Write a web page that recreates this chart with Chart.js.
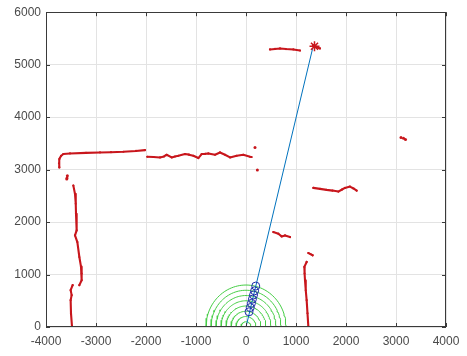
<!DOCTYPE html>
<html><head><meta charset="utf-8">
<script src="https://cdn.jsdelivr.net/npm/chart.js@4.4.0/dist/chart.umd.min.js"></script>
<style>html,body{margin:0;padding:0;background:#fff;overflow:hidden}</style>
</head><body>
<canvas id="c" width="467" height="356"></canvas>
<script>
// ---- tick labels ----
const xTicks = [-4000,-3000,-2000,-1000,0,1000,2000,3000,4000];
const yTicks = [0,1000,2000,3000,4000,5000,6000];

// ---- red scan segments [x, y] ----
const scanHookTop = [[-3733,3042],[-3740,3120],[-3730,3202],[-3700,3260],[-3653,3297],[-3520,3308],[-3200,3318],[-2920,3327],[-2700,3332],[-2453,3340],[-2200,3355],[-2020,3372]];
const scanMiddle = [[-1973,3245],[-1850,3240],[-1720,3232],[-1640,3250],[-1587,3283],[-1487,3232],[-1420,3250],[-1353,3264],[-1220,3296],[-1140,3285],[-1053,3264],[-953,3220],[-887,3296],[-820,3300],[-753,3308],[-620,3283],[-520,3327],[-420,3283],[-320,3232],[-187,3264],[-53,3283],[80,3245],[110,3240]];
const scanDots = [[180,3422],[227,2993],[3100,3610],[3150,3598],[3190,3572],[-3573,2885],[-3580,2840],[-3585,2822]];
const scanTop = [[480,5290],[580,5300],[680,5309],[800,5298],[947,5290],[1080,5270]];
const scanStarCluster = [[1340,5370],[1380,5350],[1420,5330],[1480,5310]];
const scanRightMid = [[1347,2651],[1480,2632],[1613,2613],[1730,2600],[1847,2581],[1920,2620],[1980,2651],[2080,2676],[2150,2640],[2213,2600]];
const scanShort = [[547,1809],[647,1778],[713,1727],[780,1746],[880,1714]];
const scanTiny = [[1247,1410],[1290,1390],[1333,1367]];
const scanRightWall = [[1213,1240],[1167,1145],[1172,1020],[1180,892],[1195,700],[1213,512],[1230,260],[1247,6]];
const scanLeftUpper = [[-3453,2695],[-3420,2537],[-3405,2350],[-3400,2158],[-3387,1841],[-3420,1746],[-3373,1619],[-3333,1334],[-3300,1150],[-3287,1019],[-3287,892],[-3333,797]];
const scanLeftLower = [[-3467,797],[-3507,702],[-3487,607],[-3507,512],[-3500,260],[-3480,6]];
const targetStar = [[1370,5352]];

// ---- path & circles ----
const pathLine = [[0,0],[1330,5300]];
const pathCircles = [[60,290],[85,370],[108,450],[128,530],[150,610],[172,690],[195,780]];
const ringRadii = [100,200,300,400,500,600,700,800];

const RED = 'rgb(200,22,28)';
const toPts = a => a.map(p => ({x:p[0], y:p[1]}));
const scanSegments = [scanHookTop, scanMiddle, scanTop, scanStarCluster, scanRightMid, scanShort, scanTiny, scanRightWall, scanLeftUpper, scanLeftLower];

const datasets = [];
scanSegments.forEach(seg => datasets.push({
  data: toPts(seg), showLine: true, borderColor: RED, backgroundColor: RED,
  borderWidth: 2.1, pointRadius: 1.1, pointBorderWidth: 0, borderCapStyle: 'round', borderJoinStyle: 'round', order: 5
}));
datasets.push({data: toPts(scanDots), showLine:false, pointRadius:1.5, pointBorderWidth:0, backgroundColor: RED, order:5});
datasets.push({data: toPts(targetStar), showLine:false, pointStyle:'star', pointRadius:5, borderColor: RED, pointBorderWidth:1.5, backgroundColor: RED, order:1});

// green rings (geometric semicircles of given radius)
ringRadii.forEach(r => {
  const pts = [];
  for (let a = 0; a <= 180; a += 3) {
    const t = a * Math.PI / 180;
    pts.push({x: r * Math.cos(t), y: r * Math.sin(t)});
  }
  datasets.push({data: pts, showLine:true, borderColor:'rgb(70,205,70)', borderWidth:1, pointRadius:0, order:4});
});

datasets.push({data: toPts(pathLine), showLine:true, borderColor:'#0072BD', borderWidth:1, pointRadius:0, order:3});
datasets.push({data: toPts(pathCircles), showLine:false, pointStyle:'circle', pointRadius:4, borderColor:'rgb(30,45,170)', pointBorderWidth:1, backgroundColor:'rgba(0,0,0,0)', order:2});

const framePlugin = {
  id: 'frame',
  beforeDraw(chart) {
    const ctx = chart.ctx;
    ctx.save(); ctx.fillStyle = '#fff'; ctx.fillRect(0,0,chart.width,chart.height); ctx.restore();
  },
  afterDraw(chart) {
    const {ctx, chartArea: a, scales: {x, y}} = chart;
    ctx.save();
    ctx.strokeStyle = '#3a3a3a'; ctx.lineWidth = 1;
    ctx.strokeRect(Math.round(a.left)+0.5, Math.round(a.top)+0.5, Math.round(a.right-a.left)-1, Math.round(a.bottom-a.top)-1);
    const L = 4;
    ctx.beginPath();
    xTicks.forEach(v => {
      const px = Math.round(x.getPixelForValue(v)) + 0.5;
      ctx.moveTo(px, a.bottom); ctx.lineTo(px, a.bottom - L);
      ctx.moveTo(px, a.top); ctx.lineTo(px, a.top + L);
    });
    yTicks.forEach(v => {
      const py = Math.round(y.getPixelForValue(v)) + 0.5;
      ctx.moveTo(a.left, py); ctx.lineTo(a.left + L, py);
      ctx.moveTo(a.right, py); ctx.lineTo(a.right - L, py);
    });
    ctx.stroke();
    ctx.restore();
  }
};

const tickFont = {family: "'Liberation Sans', Arial, sans-serif", size: 12};
new Chart(document.getElementById('c'), {
  type: 'scatter',
  data: { datasets },
  options: {
    responsive: false, animation: false, devicePixelRatio: 1,
    layout: { padding: {left: 0, right: 21, top: 11, bottom: 0} },
    plugins: { legend: {display:false}, tooltip: {enabled:false} },
    scales: {
      x: {
        type: 'linear', min: -4000, max: 4000,
        afterBuildTicks: s => { s.ticks = xTicks.map(v => ({value: v})); },
        afterFit: s => { s.height = 29; },
        grid: { color: '#e3e3e3', drawTicks: false },
        border: { display: false },
        ticks: { color: '#4a4a4a', font: tickFont, padding: 7, maxRotation: 0, autoSkip: false, callback: v => String(v) }
      },
      y: {
        type: 'linear', min: 0, max: 6000,
        afterBuildTicks: s => { s.ticks = yTicks.map(v => ({value: v})); },
        afterFit: s => { s.width = 46; },
        grid: { color: '#e3e3e3', drawTicks: false },
        border: { display: false },
        ticks: { color: '#4a4a4a', font: tickFont, padding: 5, autoSkip: false, callback: v => String(v) }
      }
    }
  },
  plugins: [framePlugin]
});
</script>
</body></html>
